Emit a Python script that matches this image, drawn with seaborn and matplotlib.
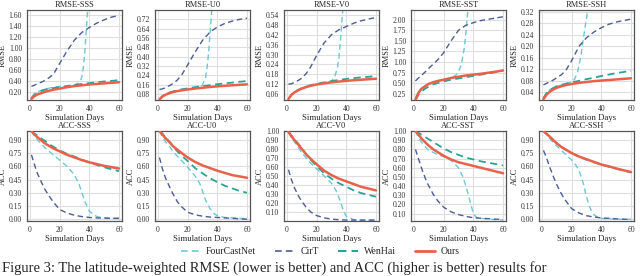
import numpy as np
import pandas as pd
import seaborn as sns
import matplotlib
matplotlib.use("Agg")
import matplotlib.pyplot as plt
from matplotlib.lines import Line2D
from matplotlib.ticker import FormatStrFormatter

# ---------------- data ----------------
models = ["FourCastNet", "CirT", "WenHai", "Ours"]
days = [1, 3, 5, 8, 10, 13, 16, 20, 25, 30, 35, 40, 45, 50, 55, 60]

# RMSE panels
rmse_sss_ours   = [0.07, 0.12, 0.15, 0.18, 0.20, 0.22, 0.24, 0.26, 0.285, 0.305, 0.32, 0.335, 0.345, 0.355, 0.365, 0.375]
rmse_sss_wenhai = [0.08, 0.14, 0.18, 0.22, 0.24, 0.26, 0.27, 0.285, 0.305, 0.325, 0.345, 0.36, 0.375, 0.39, 0.40, 0.415]
rmse_sss_cirt   = [0.30, 0.32, 0.35, 0.38, 0.41, 0.46, 0.53, 0.72, 0.95, 1.15, 1.29, 1.38, 1.46, 1.52, 1.57, 1.60]
rmse_sss_fcn_days = [1, 3, 5, 8, 10, 15, 20, 25, 30, 32, 34, 35, 36, 37, 38, 39, 40]
rmse_sss_fcn      = [0.10, 0.17, 0.20, 0.23, 0.25, 0.28, 0.30, 0.31, 0.33, 0.35, 0.40, 0.48, 0.65, 0.95, 1.35, 1.75, 2.10]

rmse_u0_ours   = [0.035, 0.06, 0.075, 0.09, 0.097, 0.106, 0.113, 0.12, 0.128, 0.135, 0.141, 0.147, 0.152, 0.156, 0.16, 0.164]
rmse_u0_wenhai = [0.035, 0.062, 0.078, 0.095, 0.103, 0.113, 0.121, 0.13, 0.14, 0.149, 0.157, 0.165, 0.172, 0.179, 0.186, 0.192]
rmse_u0_cirt   = [0.12, 0.125, 0.135, 0.155, 0.17, 0.20, 0.245, 0.33, 0.44, 0.54, 0.61, 0.655, 0.685, 0.705, 0.72, 0.73]
rmse_u0_fcn_days = [1, 3, 5, 8, 10, 15, 20, 25, 28, 30, 32, 33, 34, 35, 36, 37]
rmse_u0_fcn      = [0.035, 0.065, 0.08, 0.095, 0.10, 0.11, 0.12, 0.13, 0.14, 0.16, 0.22, 0.30, 0.42, 0.58, 0.76, 0.95]

rmse_v0_ours   = [0.03, 0.055, 0.07, 0.085, 0.093, 0.103, 0.11, 0.118, 0.125, 0.131, 0.136, 0.14, 0.144, 0.147, 0.15, 0.153]
rmse_v0_wenhai = [0.03, 0.056, 0.072, 0.088, 0.096, 0.106, 0.114, 0.122, 0.131, 0.139, 0.146, 0.152, 0.157, 0.161, 0.165, 0.169]
rmse_v0_cirt   = [0.12, 0.123, 0.13, 0.145, 0.157, 0.185, 0.225, 0.295, 0.37, 0.42, 0.45, 0.47, 0.49, 0.505, 0.515, 0.525]
rmse_v0_fcn_days = [1, 3, 5, 8, 10, 15, 20, 25, 30, 32, 34, 35, 36, 37, 38]
rmse_v0_fcn      = [0.03, 0.058, 0.072, 0.088, 0.096, 0.11, 0.12, 0.128, 0.14, 0.16, 0.22, 0.28, 0.38, 0.50, 0.62]

rmse_sst_ours   = [0.10, 0.27, 0.36, 0.44, 0.48, 0.52, 0.55, 0.58, 0.62, 0.65, 0.68, 0.70, 0.72, 0.745, 0.77, 0.80]
rmse_sst_wenhai = [0.10, 0.22, 0.30, 0.38, 0.42, 0.47, 0.50, 0.54, 0.58, 0.61, 0.64, 0.67, 0.70, 0.73, 0.76, 0.80]
rmse_sst_cirt   = [0.55, 0.62, 0.68, 0.78, 0.85, 0.95, 1.05, 1.22, 1.50, 1.75, 1.87, 1.93, 1.98, 2.01, 2.04, 2.07]
rmse_sst_fcn_days = [1, 3, 5, 8, 10, 15, 20, 25, 28, 30, 32, 34, 35, 36, 37]
rmse_sst_fcn      = [0.15, 0.30, 0.38, 0.45, 0.49, 0.54, 0.58, 0.63, 0.68, 0.76, 0.95, 1.35, 1.70, 2.10, 2.50]

rmse_ssh_ours   = [0.015, 0.03, 0.04, 0.05, 0.055, 0.06, 0.064, 0.068, 0.072, 0.075, 0.078, 0.08, 0.082, 0.084, 0.086, 0.088]
rmse_ssh_wenhai = [0.018, 0.035, 0.045, 0.055, 0.06, 0.065, 0.069, 0.074, 0.079, 0.085, 0.09, 0.096, 0.101, 0.106, 0.11, 0.115]
rmse_ssh_cirt   = [0.065, 0.07, 0.075, 0.083, 0.09, 0.10, 0.115, 0.15, 0.20, 0.23, 0.25, 0.265, 0.277, 0.285, 0.29, 0.295]
rmse_ssh_fcn_days = [1, 3, 5, 8, 10, 15, 20, 22, 24, 26, 28, 30, 31, 32]
rmse_ssh_fcn      = [0.02, 0.037, 0.047, 0.056, 0.06, 0.067, 0.075, 0.085, 0.11, 0.16, 0.23, 0.30, 0.33, 0.36]

# ACC panels
acc_sss_ours   = [1.0, 0.96, 0.93, 0.89, 0.86, 0.83, 0.80, 0.77, 0.73, 0.70, 0.67, 0.645, 0.625, 0.605, 0.59, 0.575]
acc_sss_wenhai = [1.0, 0.97, 0.95, 0.91, 0.89, 0.85, 0.82, 0.78, 0.74, 0.71, 0.675, 0.645, 0.615, 0.59, 0.565, 0.545]
acc_sss_cirt   = [0.73, 0.62, 0.52, 0.41, 0.34, 0.26, 0.19, 0.11, 0.07, 0.045, 0.03, 0.02, 0.015, 0.012, 0.01, 0.01]
acc_sss_fcn_days = [1, 3, 5, 8, 10, 15, 20, 25, 30, 33, 35, 37, 40, 45, 50, 55, 60]
acc_sss_fcn      = [1.0, 0.94, 0.90, 0.85, 0.81, 0.74, 0.67, 0.60, 0.50, 0.40, 0.30, 0.20, 0.09, 0.03, 0.015, 0.01, 0.01]

acc_u0_ours   = [1.0, 0.96, 0.92, 0.87, 0.83, 0.79, 0.75, 0.70, 0.65, 0.61, 0.58, 0.55, 0.525, 0.50, 0.485, 0.47]
acc_u0_wenhai = [1.0, 0.97, 0.93, 0.87, 0.83, 0.77, 0.72, 0.66, 0.58, 0.52, 0.465, 0.42, 0.38, 0.35, 0.32, 0.30]
acc_u0_cirt   = [0.70, 0.57, 0.47, 0.36, 0.29, 0.20, 0.14, 0.08, 0.05, 0.035, 0.025, 0.02, 0.015, 0.01, 0.005, 0.0]
acc_u0_fcn_days = [1, 3, 5, 8, 10, 15, 20, 25, 28, 30, 32, 35, 38, 40, 45, 50, 55, 60]
acc_u0_fcn      = [1.0, 0.93, 0.88, 0.82, 0.77, 0.68, 0.59, 0.49, 0.41, 0.32, 0.22, 0.12, 0.06, 0.04, 0.02, 0.015, 0.01, 0.005]

acc_v0_ours   = [0.99, 0.94, 0.90, 0.84, 0.80, 0.74, 0.69, 0.63, 0.56, 0.51, 0.47, 0.44, 0.41, 0.38, 0.36, 0.34]
acc_v0_wenhai = [0.99, 0.95, 0.91, 0.85, 0.81, 0.74, 0.68, 0.61, 0.53, 0.47, 0.42, 0.38, 0.34, 0.31, 0.29, 0.27]
acc_v0_cirt   = [0.57, 0.46, 0.37, 0.27, 0.22, 0.15, 0.10, 0.06, 0.035, 0.02, 0.015, 0.01, 0.01, 0.01, 0.01, 0.01]
acc_v0_fcn_days = [1, 3, 5, 8, 10, 15, 20, 25, 30, 33, 35, 38, 40, 45, 50, 55, 60]
acc_v0_fcn      = [0.99, 0.93, 0.88, 0.81, 0.76, 0.66, 0.58, 0.50, 0.42, 0.34, 0.26, 0.12, 0.05, 0.015, 0.01, 0.01, 0.005]

acc_sst_ours   = [1.0, 0.96, 0.92, 0.87, 0.84, 0.80, 0.77, 0.73, 0.69, 0.66, 0.64, 0.62, 0.60, 0.58, 0.56, 0.54]
acc_sst_wenhai = [1.0, 0.98, 0.96, 0.93, 0.91, 0.88, 0.85, 0.81, 0.77, 0.74, 0.71, 0.69, 0.67, 0.655, 0.64, 0.625]
acc_sst_cirt   = [0.80, 0.70, 0.60, 0.47, 0.40, 0.31, 0.24, 0.17, 0.12, 0.09, 0.07, 0.055, 0.05, 0.045, 0.04, 0.035]
acc_sst_fcn_days = [1, 3, 5, 8, 10, 15, 20, 25, 30, 33, 35, 38, 40, 42, 45, 50, 55, 60]
acc_sst_fcn      = [1.0, 0.93, 0.88, 0.82, 0.79, 0.75, 0.72, 0.68, 0.60, 0.50, 0.40, 0.22, 0.10, 0.06, 0.05, 0.04, 0.035, 0.03]

acc_ssh_ours   = [1.0, 0.97, 0.94, 0.89, 0.86, 0.82, 0.79, 0.75, 0.71, 0.68, 0.65, 0.62, 0.60, 0.575, 0.555, 0.535]
acc_ssh_wenhai = [1.0, 0.97, 0.94, 0.89, 0.86, 0.82, 0.785, 0.75, 0.71, 0.675, 0.645, 0.62, 0.595, 0.575, 0.55, 0.53]
acc_ssh_cirt   = [0.78, 0.70, 0.60, 0.47, 0.39, 0.29, 0.21, 0.12, 0.07, 0.04, 0.025, 0.015, 0.01, 0.005, 0.0, 0.0]
acc_ssh_fcn_days = [1, 3, 5, 8, 10, 15, 20, 23, 25, 28, 30, 33, 35, 38, 40, 45, 50, 60]
acc_ssh_fcn      = [1.0, 0.96, 0.92, 0.86, 0.83, 0.75, 0.67, 0.61, 0.55, 0.40, 0.25, 0.10, 0.05, 0.02, 0.01, 0.005, 0.0, 0.0]

x_ticks = [0, 20, 40, 60]
caption = "Figure 3: The latitude-weighted RMSE (lower is better) and ACC (higher is better) results for"

# ---------------- panels ----------------
panels = [
    dict(title="RMSE-SSS", ylabel="RMSE", ylim=(0.05, 1.70), yticks=np.arange(0.2, 1.61, 0.2),
         fcn=(rmse_sss_fcn_days, rmse_sss_fcn), cirt=rmse_sss_cirt, wenhai=rmse_sss_wenhai, ours=rmse_sss_ours),
    dict(title="RMSE-U0", ylabel="RMSE", ylim=(0.03, 0.80), yticks=np.arange(0.08, 0.721, 0.08),
         fcn=(rmse_u0_fcn_days, rmse_u0_fcn), cirt=rmse_u0_cirt, wenhai=rmse_u0_wenhai, ours=rmse_u0_ours),
    dict(title="RMSE-V0", ylabel="RMSE", ylim=(0.024, 0.57), yticks=np.arange(0.06, 0.541, 0.06),
         fcn=(rmse_v0_fcn_days, rmse_v0_fcn), cirt=rmse_v0_cirt, wenhai=rmse_v0_wenhai, ours=rmse_v0_ours),
    dict(title="RMSE-SST", ylabel="RMSE", ylim=(0.10, 2.23), yticks=np.arange(0.25, 2.01, 0.25),
         fcn=(rmse_sst_fcn_days, rmse_sst_fcn), cirt=rmse_sst_cirt, wenhai=rmse_sst_wenhai, ours=rmse_sst_ours),
    dict(title="RMSE-SSH", ylabel="RMSE", ylim=(0.012, 0.327), yticks=np.arange(0.04, 0.321, 0.04),
         fcn=(rmse_ssh_fcn_days, rmse_ssh_fcn), cirt=rmse_ssh_cirt, wenhai=rmse_ssh_wenhai, ours=rmse_ssh_ours),
    dict(title="ACC-SSS", ylabel="ACC", ylim=(-0.02, 1.0), yticks=np.arange(0.0, 0.91, 0.15),
         fcn=(acc_sss_fcn_days, acc_sss_fcn), cirt=acc_sss_cirt, wenhai=acc_sss_wenhai, ours=acc_sss_ours),
    dict(title="ACC-U0", ylabel="ACC", ylim=(-0.02, 1.0), yticks=np.arange(0.0, 0.91, 0.15),
         fcn=(acc_u0_fcn_days, acc_u0_fcn), cirt=acc_u0_cirt, wenhai=acc_u0_wenhai, ours=acc_u0_ours),
    dict(title="ACC-V0", ylabel="ACC", ylim=(0.0, 1.0), yticks=np.arange(0.1, 1.01, 0.1),
         fcn=(acc_v0_fcn_days, acc_v0_fcn), cirt=acc_v0_cirt, wenhai=acc_v0_wenhai, ours=acc_v0_ours),
    dict(title="ACC-SST", ylabel="ACC", ylim=(0.02, 1.0), yticks=np.arange(0.1, 1.01, 0.1),
         fcn=(acc_sst_fcn_days, acc_sst_fcn), cirt=acc_sst_cirt, wenhai=acc_sst_wenhai, ours=acc_sst_ours),
    dict(title="ACC-SSH", ylabel="ACC", ylim=(-0.02, 1.0), yticks=np.arange(0.0, 0.91, 0.15),
         fcn=(acc_ssh_fcn_days, acc_ssh_fcn), cirt=acc_ssh_cirt, wenhai=acc_ssh_wenhai, ours=acc_ssh_ours),
]

colors = {"FourCastNet": "#6cc8d4", "CirT": "#4d5d96", "WenHai": "#2aa294", "Ours": "#e9604b"}
styles = {"FourCastNet": dict(ls=(0, (4, 2.5)), lw=1.0),
          "CirT": dict(ls=(0, (4, 2.5)), lw=1.0),
          "WenHai": dict(ls=(0, (4, 2.5)), lw=1.3),
          "Ours": dict(ls="-", lw=1.8)}

# ---------------- style ----------------
sns.set_theme(style="whitegrid")
plt.rcParams["font.family"] = ["Liberation Serif", "DejaVu Serif"]
plt.rcParams["axes.edgecolor"] = "#555555"
plt.rcParams["grid.color"] = "#dedede"

W, H = 640, 276
fig = plt.figure(figsize=(6.4, 2.76), dpi=100)

lefts = [27, 155, 284, 411, 539]
axw = 95
rows = [(10, 100), (131, 221)]

for i, p in enumerate(panels):
    r, c = divmod(i, 5)
    top, bot = rows[r]
    ax = fig.add_axes([lefts[c] / W, 1 - bot / H, axw / W, (bot - top) / H])
    series = [("FourCastNet", p["fcn"][0], p["fcn"][1]),
              ("CirT", days, p["cirt"]),
              ("WenHai", days, p["wenhai"]),
              ("Ours", days, p["ours"])]
    for name, xs, ys in series:
        df = pd.DataFrame({"day": xs, "val": ys})
        sns.lineplot(data=df, x="day", y="val", ax=ax, color=colors[name],
                     linestyle=styles[name]["ls"], linewidth=styles[name]["lw"],
                     zorder=3 if name == "Ours" else 2)
    ax.set_xlim(-2, 62)
    ax.set_ylim(*p["ylim"])
    ax.set_xticks(x_ticks)
    ax.set_yticks(p["yticks"])
    ax.yaxis.set_major_formatter(FormatStrFormatter("%.2f"))
    ax.tick_params(axis="both", labelsize=5.5, length=2, width=0.6, pad=1.5, colors="#333333")
    ax.set_title(p["title"], fontsize=6, pad=2)
    ax.set_xlabel("Simulation Days", fontsize=6.3, labelpad=1)
    ax.set_ylabel(p["ylabel"], fontsize=6, labelpad=1.5)
    ax.grid(True, lw=0.8)
    for s in ax.spines.values():
        s.set_linewidth(0.9)
        s.set_color("#555555")

handles = [Line2D([], [], color=colors[m], linestyle=styles[m]["ls"], linewidth=styles[m]["lw"] + 0.2)
           for m in models]
fig.legend(handles, models, loc="center", bbox_to_anchor=(0.5, 1 - 252 / H), ncol=4,
           frameon=False, fontsize=7, handlelength=2.0, columnspacing=2.0, handletextpad=0.6)

fig.text(0.003, 0.004, caption, fontsize=10.5, va="bottom", ha="left",
         family=["Liberation Serif", "DejaVu Serif"])

fig.savefig("out.png", dpi=100)
